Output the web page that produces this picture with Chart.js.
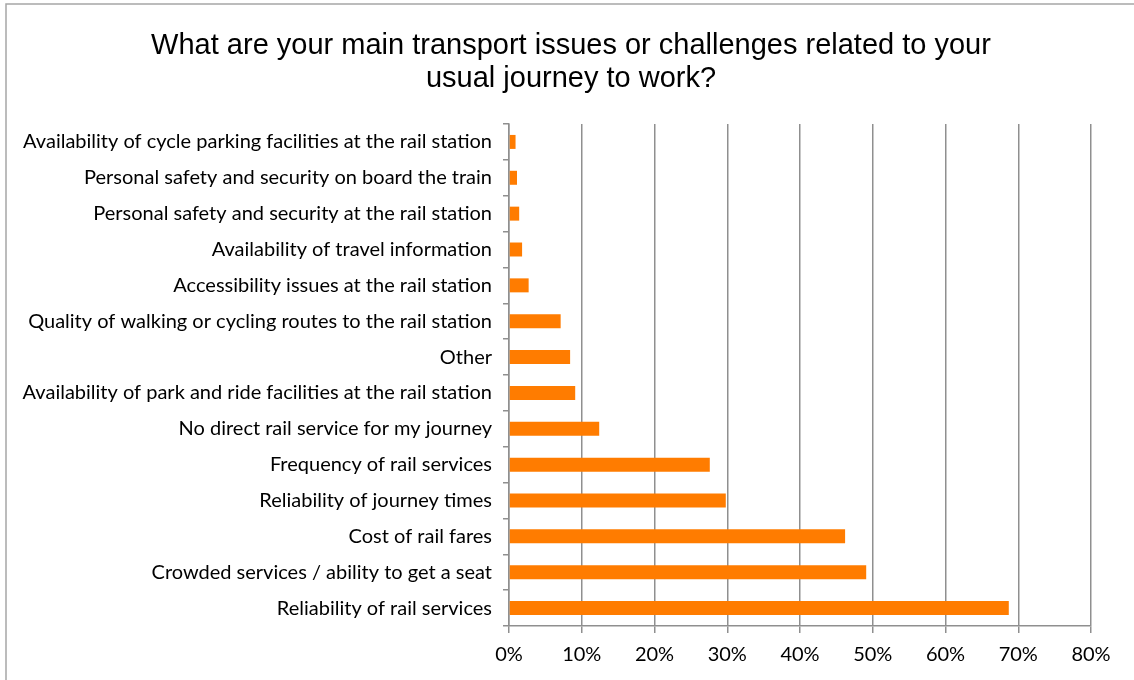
<!DOCTYPE html>
<html>
<head>
<meta charset="utf-8">
<title>Transport issues on the journey to work</title>
<script src="https://cdn.jsdelivr.net/npm/chart.js@4/dist/chart.umd.min.js"></script>
<style>
  html, body { margin: 0; padding: 0; background: #ffffff; }
  #wrap { width: 1134px; height: 680px; }
</style>
</head>
<body>
<div id="wrap"><canvas id="chart" width="1134" height="680"></canvas></div>
<script>
// Survey responses, listed top to bottom as shown on the chart
const categories = [
  "Availability of cycle parking facilities at the rail station",
  "Personal safety and security on board the train",
  "Personal safety and security at the rail station",
  "Availability of travel information",
  "Accessibility issues at the rail station",
  "Quality of walking or cycling routes to the rail station",
  "Other",
  "Availability of park and ride facilities at the rail station",
  "No direct rail service for my journey",
  "Frequency of rail services",
  "Reliability of journey times",
  "Cost of rail fares",
  "Crowded services / ability to get a seat",
  "Reliability of rail services"
];

// Share of respondents (%)
const shares = [0.9, 1.1, 1.4, 1.8, 2.7, 7.1, 8.4, 9.1, 12.4, 27.6, 29.8, 46.2, 49.1, 68.7];

// Horizontal axis ticks (%)
const xTicks = [0, 10, 20, 30, 40, 50, 60, 70, 80];

const titleLines = [
  "What are your main transport issues or challenges related to your",
  "usual journey to work?"
];

const labelFont = { family: "Lato, 'Open Sans', sans-serif", size: 20 };

// White background, thin grey frame and the two-line heading centred on the page
const framePlugin = {
  id: 'frame',
  beforeDraw(chart) {
    const ctx = chart.ctx;
    ctx.save();
    ctx.fillStyle = '#ffffff';
    ctx.fillRect(0, 0, chart.width, chart.height);
    ctx.strokeStyle = '#a6a6a6';
    ctx.lineWidth = 1.5;
    ctx.beginPath();
    ctx.moveTo(6, chart.height + 10);
    ctx.lineTo(6, 4);
    ctx.lineTo(chart.width + 10, 4);
    ctx.stroke();

    ctx.fillStyle = '#000000';
    ctx.font = "29px 'Liberation Sans', Arial, sans-serif";
    ctx.textAlign = 'center';
    ctx.textBaseline = 'middle';
    const cx = 571;
    titleLines.forEach((line, i) => ctx.fillText(line, cx, 46 + i * 33));
    ctx.restore();
  }
};

new Chart(document.getElementById('chart'), {
  type: 'bar',
  data: {
    labels: categories,
    datasets: [{
      data: shares,
      backgroundColor: '#ff7c00',
      borderWidth: 0,
      categoryPercentage: 1.0,
      barPercentage: 0.39
    }]
  },
  options: {
    indexAxis: 'y',
    responsive: false,
    animation: false,
    devicePixelRatio: 1,
    layout: { padding: { left: 0, right: 43, top: 124, bottom: 3 } },
    plugins: {
      legend: { display: false },
      tooltip: { enabled: false },
      title: { display: false }
    },
    scales: {
      x: {
        min: xTicks[0],
        max: xTicks[xTicks.length - 1],
        afterBuildTicks(scale) {
          scale.ticks = xTicks.map(v => ({ value: v }));
        },
        ticks: {
          color: '#000000',
          font: labelFont,
          padding: 10,
          callback: v => v + '%'
        },
        grid: {
          color: '#8f8f8f',
          lineWidth: 1.5,
          tickLength: 7,
          drawOnChartArea: true
        },
        border: { display: true, color: '#8f8f8f', width: 1.5 }
      },
      y: {
        afterFit(scale) { scale.width = 509; },
        ticks: {
          color: '#000000',
          font: labelFont,
          padding: 11,
          autoSkip: false
        },
        grid: {
          offset: true,
          drawOnChartArea: false,
          color: '#8f8f8f',
          lineWidth: 1.5,
          tickLength: 6
        },
        border: { display: true, color: '#8f8f8f', width: 1.5 }
      }
    }
  },
  plugins: [framePlugin]
});
</script>
</body>
</html>
